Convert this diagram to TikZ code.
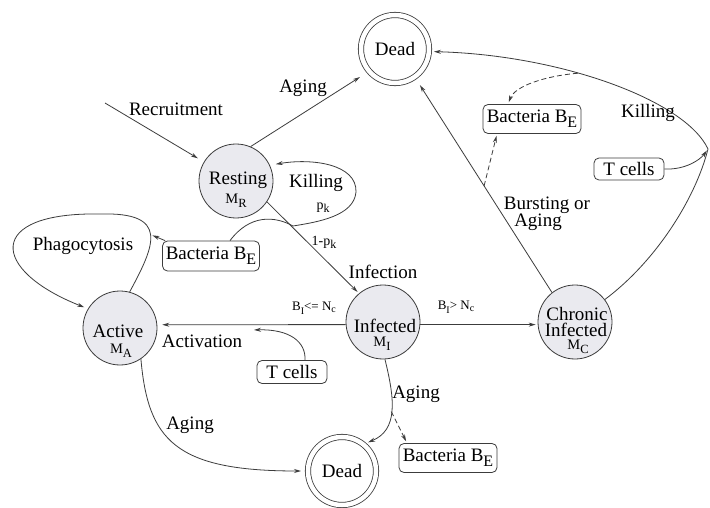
\documentclass[tikz,border=0pt]{standalone}
\usepackage{fontspec}
\setmainfont{Liberation Serif}
\usetikzlibrary{arrows.meta}
\definecolor{linec}{RGB}{60,60,60}
\definecolor{statefill}{RGB}{234,234,239}
\newcommand\lblfont{\fontsize{19}{21}\selectfont}
\newcommand\smallfont{\fontsize{13}{14}\selectfont}
\newcommand\lowr[2]{\raisebox{-#1}{#2}}
\newcommand\bactE{Bacteria B\lowr{5pt}{\fontsize{16}{16}\selectfont E}}
\newcommand\mcell[1]{{\fontsize{14.5}{15}\selectfont M\lowr{4pt}{\fontsize{12.5}{13}\selectfont #1}}}
\newcommand\pkill{p\lowr{3pt}{\fontsize{12}{12}\selectfont k}}
\newcommand\bsubI{B\lowr{4pt}{\fontsize{10}{10}\selectfont I}}
\newcommand\nsubc{N\lowr{2pt}{\fontsize{10}{10}\selectfont c}}
\begin{document}
\begin{tikzpicture}[x=1pt,y=-1pt,
  state/.style={circle, draw=linec, fill=statefill, line width=0.8pt, minimum size=74pt, inner sep=0pt},
  deadst/.style={circle, draw=linec, double=white, double distance=4.5pt, line width=0.8pt,
                 minimum size=68pt, inner sep=0pt, outer sep=3pt, font=\lblfont},
  boxst/.style={rectangle, rounded corners=5pt, draw=linec, line width=0.8pt, inner sep=2pt, font=\lblfont},
  lbl/.style={inner sep=0pt, anchor=base, font=\lblfont},
  arr/.style={draw=linec, line width=0.8pt, -{Stealth[length=7pt,width=4pt]}, shorten >=2pt},
  darr/.style={arr, dash pattern=on 5pt off 3pt}]
\fill[white] (0,0) rectangle (710,508);
\useasboundingbox (0,0) rectangle (710,508);

% states
\node[deadst] (D1) at (395,49) {Dead};
\node[deadst] (D2) at (342,471) {Dead};
\node[state] (R) at (236,181) {};
\node[state] (A) at (120,328) {};
\node[state] (I) at (383,322) {};
\node[state] (C) at (575,322) {};

% state texts
\node[lbl] (Rt1) at (238,185) {Resting};
\node[lbl] (Rt2) at (236,204) {\mcell{R}};
\node[lbl] (At1) at (118,337) {Active};
\node[lbl] (At2) at (121,353) {\mcell{A}};
\node[lbl] (It1) at (385,332) {Infected};
\node[lbl] (It2) at (382,346) {\mcell{I}};
\node[lbl] (Ct1) at (577,320) {Chronic};
\node[lbl] (Ct2) at (576,336) {Infected};
\node[lbl] (Ct3) at (578,349) {\mcell{C}};

% boxes
\node[boxst, minimum width=98pt, minimum height=29pt] (BR) at (532,119) {\bactE};
\node[boxst, minimum width=97pt, minimum height=30pt] (BL) at (211,256) {\bactE};
\node[boxst, minimum width=98pt, minimum height=29pt] (BB) at (448,458) {\bactE};
\node[boxst, minimum width=70pt, minimum height=22pt] (TR) at (629,169) {T cells};
\node[boxst, minimum width=70pt, minimum height=23pt] (TL) at (292,372) {T cells};

% free ends and bends
\coordinate (rin) at (105,103);
\coordinate (kc) at (708,149);
\coordinate (act) at (252,330);

% connectors
\draw[arr, shorten >=7pt] (rin) -- (R);
\draw[arr, shorten >=8pt] (R.67) -- (D1.220);
\draw[arr] (R.-34) -- (I.130);
\draw[arr, shorten >=6pt] ([xshift=19pt]BL.north) .. controls (250,214) and (275,216) .. (293,226)
      .. controls (318,222) and (354,216) .. (356,192)
      .. controls (357,164) and (312,158) .. (R.25);
\draw[arr, shorten >=5pt] (I.184) -- (A.5);
\draw[arr] ([xshift=13pt]TL.north) .. controls (306,342) and (290,329) .. (act);
\draw[arr] (I.-4) -- (C.184);
\draw[arr, shorten >=7pt] (C.128) -- (D1.-55) coordinate[pos=0.5] (cd);
\draw[darr] (cd) -- ([xshift=-35pt]BR.south);
\draw[arr] (C.37) .. controls (655,262) and (695,200) .. (kc)
      .. controls (685,100) and (560,55) .. (D1.-4) coordinate[pos=0.6] (kb);
\draw[darr] (kb) .. controls (545,76) and (515,86) .. ([xshift=-24pt]BR.north);
\draw[arr] (TR.east) .. controls (685,170) and (700,160) .. (kc);
\draw[arr, shorten >=4pt] (A.75) .. controls (155,245) and (170,212) .. (100,214) coordinate[pos=0.5] (ph)
      .. controls (-15,212) and (-10,270) .. (A.149);
\draw[arr] ([xshift=3pt]BL.north west) -- (ph);
\draw[arr, shorten >=4pt] (A.-56) .. controls (148,440) and (175,471) .. (D2.west);
\draw[arr] (I.-87) .. controls (395,400) and (398,430) .. (D2.49) coordinate[pos=0.5] (id);
\draw[darr] (id) -- ([xshift=-41pt]BB.north);

% edge labels
\node[lbl] (lRec) at (176,116) {Recruitment};
\node[lbl] (lAg1) at (303,93) {Aging};
\node[lbl] (lKR) at (316,188) {Killing};
\node[lbl, font=\fontsize{14}{14}\selectfont] (lpk) at (323,209) {\pkill};
\node[lbl, font=\fontsize{14}{14}\selectfont] (l1pk) at (324,245) {1-\pkill};
\node[lbl] (lInf) at (383,278) {Infection};
\node[lbl, font=\smallfont] (lLe) at (314,310) {\bsubI<= \nsubc};
\node[lbl] (lAct) at (202,347) {Activation};
\node[lbl, font=\smallfont] (lGt) at (456,309) {\bsubI> \nsubc};
\node[lbl] (lBu1) at (547,210) {Bursting or};
\node[lbl] (lBu2) at (538,226) {Aging};
\node[lbl] (lKC) at (648,118) {Killing};
\node[lbl] (lAg2) at (190,429) {Aging};
\node[lbl] (lAg3) at (416,398) {Aging};
\node[lbl] (lPh) at (83,250) {Phagocytosis};
\end{tikzpicture}
\end{document}
